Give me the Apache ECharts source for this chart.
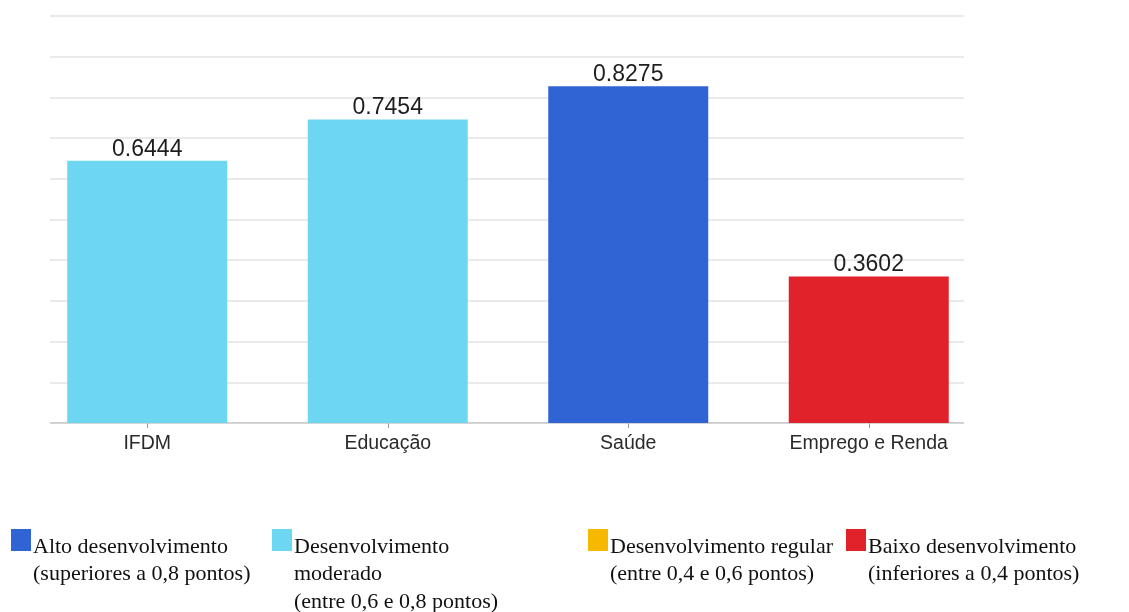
<!DOCTYPE html>
<html>
<head>
<meta charset="utf-8">
<title>IFDM</title>
<script src="https://cdn.jsdelivr.net/npm/echarts@6/dist/echarts.min.js"></script>
<style>
  html, body { margin: 0; padding: 0; background: #ffffff; }
  #chart { width: 1129px; height: 612px; }
</style>
</head>
<body>
<div id="chart"></div>
<script>
// Índice FIRJAN de Desenvolvimento Municipal e suas vertentes
const categories = ['IFDM', 'Educação', 'Saúde', 'Emprego e Renda'];
const values = [0.6444, 0.7454, 0.8275, 0.3602];

// Faixas de desenvolvimento (legenda)
const levelNames = [
  'Alto desenvolvimento\n(superiores a 0,8 pontos)',
  'Desenvolvimento\nmoderado\n(entre 0,6 e 0,8 pontos)',
  'Desenvolvimento regular\n(entre 0,4 e 0,6 pontos)',
  'Baixo desenvolvimento\n(inferiores a 0,4 pontos)'
];
const levelColors = ['#3064d4', '#6dd7f2', '#f6b900', '#e2222a'];
const levelThresholds = [0.8, 0.6, 0.4, 0];

const yMin = 0, yMax = 1, yInterval = 0.1;

function levelIndex(v) {
  for (let i = 0; i < levelThresholds.length; i++) {
    if (v > levelThresholds[i]) return i;
  }
  return levelThresholds.length - 1;
}

const chart = echarts.init(document.getElementById('chart'), null, { renderer: 'canvas' });

const gridTop = 16, gridBottom = 189;

const legendX = [11, 272, 588, 846];
const legendGraphics = [];
levelNames.forEach((name, i) => {
  legendGraphics.push({
    type: 'rect',
    left: legendX[i], top: 529,
    shape: { width: 20, height: 22 },
    style: { fill: levelColors[i] }
  });
  legendGraphics.push({
    type: 'text',
    left: legendX[i] + 22, top: 533,
    style: {
      text: name,
      fill: '#111',
      font: '22px "Liberation Serif", "Times New Roman", serif',
      lineHeight: 27.5
    }
  });
});

chart.setOption({
  animation: false,
  grid: [
    // plot frame: horizontal guides and baseline
    { left: 50, right: 165, top: gridTop, bottom: gridBottom },
    // bars and category labels
    { left: 27, right: 140, top: gridTop, bottom: gridBottom }
  ],
  xAxis: [
    {
      gridIndex: 0, type: 'value', min: 0, max: 1,
      axisLine: { show: false }, axisTick: { show: false },
      axisLabel: { show: false }, splitLine: { show: false }
    },
    {
      gridIndex: 1, type: 'category', data: categories,
      axisLine: { show: false },
      axisTick: { show: true, alignWithLabel: true, length: 5, lineStyle: { color: '#999' } },
      axisLabel: { color: '#2a2a2a', fontSize: 19.5, fontFamily: 'Liberation Sans, Arial, sans-serif', margin: 11 }
    }
  ],
  yAxis: [
    {
      gridIndex: 0, type: 'value', min: yMin, max: yMax, interval: yInterval,
      axisLine: { show: false }, axisTick: { show: false }, axisLabel: { show: false },
      splitLine: { show: true, lineStyle: { color: '#e3e3e3', width: 1.5 } }
    },
    {
      gridIndex: 1, type: 'value', min: yMin, max: yMax, interval: yInterval,
      axisLine: { show: false }, axisTick: { show: false }, axisLabel: { show: false },
      splitLine: { show: false }
    }
  ],
  series: [
    {
      // baseline of the plot
      type: 'line', xAxisIndex: 0, yAxisIndex: 0,
      data: [[0, 0], [1, 0]],
      symbol: 'none', silent: true,
      lineStyle: { color: '#c4c4c4', width: 1.5 },
      z: 1
    },
    {
      type: 'bar', xAxisIndex: 1, yAxisIndex: 1,
      barWidth: 160,
      data: values.map(v => ({ value: v, itemStyle: { color: levelColors[levelIndex(v)] } })),
      label: {
        show: true, position: 'top', distance: 0,
        color: '#1e1e1e', fontSize: 23, fontFamily: 'Liberation Sans, Arial, sans-serif',
        formatter: p => p.value.toFixed(4)
      },
      z: 3
    }
  ],
  graphic: legendGraphics
});
</script>
</body>
</html>
